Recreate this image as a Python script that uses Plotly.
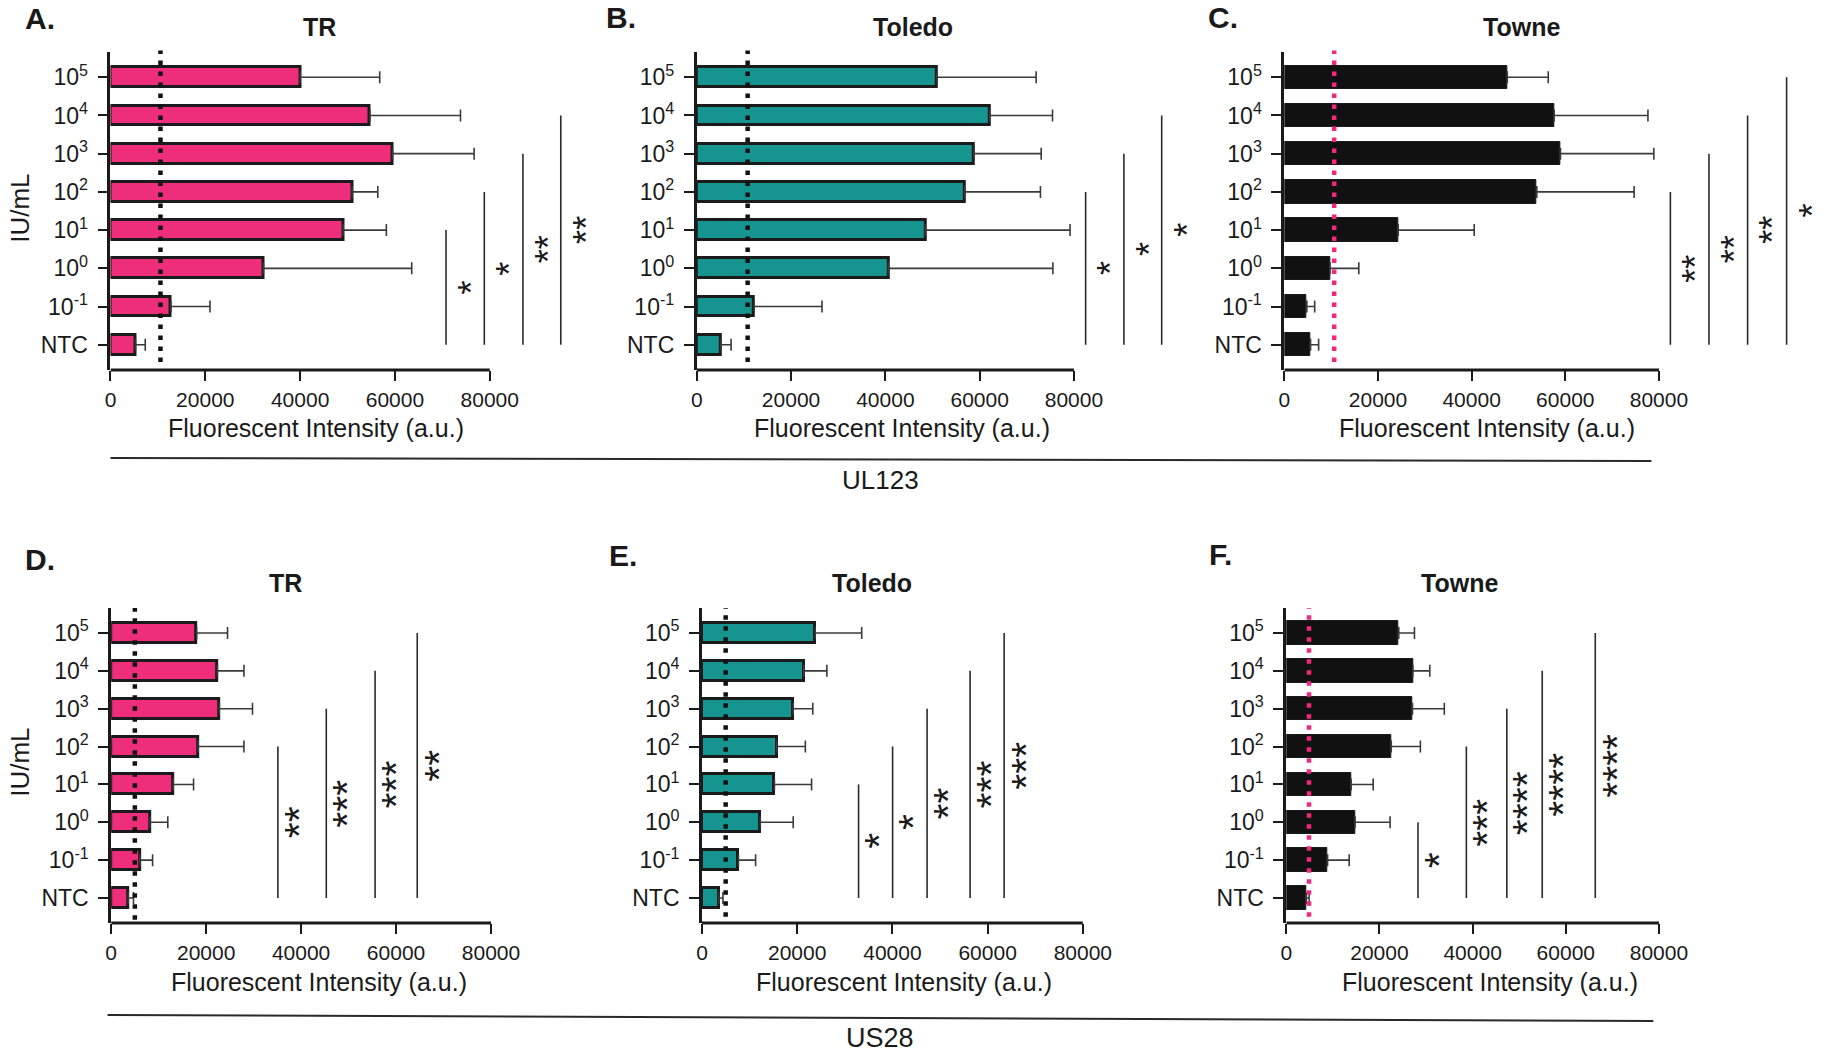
import plotly.graph_objects as go

W, H = 1836, 1053  # reference canvas in px, used to place things as fractions

# ---------------- data ----------------
categories = ["NTC", "10<sup>-1</sup>", "10<sup>0</sup>", "10<sup>1</sup>", "10<sup>2</sup>",
              "10<sup>3</sup>", "10<sup>4</sup>", "10<sup>5</sup>"]
x_ticks = [0, 20000, 40000, 60000, 80000]
x_tick_labels = ["0", "20000", "40000", "60000", "80000"]

# UL123 row (order: NTC, 10^-1, 10^0, 10^1, 10^2, 10^3, 10^4, 10^5)
tr_ul123_mean = [5270, 12760, 32260, 49050, 50950, 59500, 54730, 40000]
tr_ul123_upper = [7330, 20990, 63540, 58190, 56380, 76700, 73830, 56790]
toledo_ul123_mean = [5130, 12160, 40620, 48480, 56840, 58820, 62130, 50960]
toledo_ul123_upper = [7280, 26560, 75530, 79170, 72890, 73050, 75450, 71980]
towne_ul123_mean = [5600, 4800, 9760, 24310, 53920, 58970, 57620, 47610]
towne_ul123_upper = [7320, 6480, 15900, 40550, 74700, 78910, 77650, 56360]

# US28 row
tr_us28_mean = [3600, 6080, 8140, 13070, 18330, 22770, 22360, 18000]
tr_us28_upper = [4700, 8720, 11920, 17350, 27960, 29760, 27960, 24500]
toledo_us28_mean = [3500, 7650, 12250, 15210, 15700, 19160, 21380, 23760]
toledo_us28_upper = [4400, 11260, 19160, 23020, 21710, 23270, 26230, 33550]
towne_us28_mean = [4300, 8860, 14770, 13920, 22530, 27090, 27170, 24140]
towne_us28_upper = [4900, 13500, 22280, 18650, 28780, 33920, 30800, 27510]

# detection thresholds (dotted lines)
thresholds = [10540, 10790, 10650, 4980, 4970, 4870]

# significance brackets: x position, top category index (bottom is NTC), label
sig_A_x = [70780, 78850, 87000, 94980]
sig_A_top = [3, 4, 5, 6]
sig_A_lab = ["*", "*", "**", "**"]
sig_B_x = [82480, 90590, 98610]
sig_B_top = [4, 5, 6]
sig_B_lab = ["*", "*", "*"]
sig_C_x = [82440, 90680, 98930, 107260]
sig_C_top = [4, 5, 6, 7]
sig_C_lab = ["**", "**", "**", "*"]
sig_D_x = [35110, 45300, 55580, 64460]
sig_D_top = [4, 5, 6, 7]
sig_D_lab = ["**", "***", "***", "**"]
sig_E_x = [32890, 40040, 47280, 56320, 63470]
sig_E_top = [3, 4, 5, 6, 7]
sig_E_lab = ["*", "*", "**", "***", "***"]
sig_F_x = [28270, 38650, 47340, 54940, 66330]
sig_F_top = [2, 4, 5, 6, 7]
sig_F_lab = ["*", "***", "****", "****", "****"]

panel_letters = ["A.", "B.", "C.", "D.", "E.", "F."]
panel_titles = ["TR", "Toledo", "Towne", "TR", "Toledo", "Towne"]
gene_labels = ["UL123", "US28"]

# ---------------- styling / layout ----------------
PINK = "#EE2E7B"
TEAL = "#16948F"
BLACK = "#111111"
EDGE = "#1b1b1b"
TXT = "#1a1a1a"
FONT = "Liberation Sans, Arial, Helvetica, sans-serif"

panels = [
    dict(mean=tr_ul123_mean, up=tr_ul123_upper, color=PINK, lw=3, bw=0.52, dot="#111111",
         sx=sig_A_x, st=sig_A_top, sl=sig_A_lab, xmax=100000),
    dict(mean=toledo_ul123_mean, up=toledo_ul123_upper, color=TEAL, lw=3, bw=0.52, dot="#111111",
         sx=sig_B_x, st=sig_B_top, sl=sig_B_lab, xmax=102000),
    dict(mean=towne_ul123_mean, up=towne_ul123_upper, color=BLACK, lw=1, bw=0.61, dot="#F2287C",
         sx=sig_C_x, st=sig_C_top, sl=sig_C_lab, xmax=110000),
    dict(mean=tr_us28_mean, up=tr_us28_upper, color=PINK, lw=3, bw=0.53, dot="#111111",
         sx=sig_D_x, st=sig_D_top, sl=sig_D_lab, xmax=82000),
    dict(mean=toledo_us28_mean, up=toledo_us28_upper, color=TEAL, lw=3, bw=0.53, dot="#111111",
         sx=sig_E_x, st=sig_E_top, sl=sig_E_lab, xmax=82000),
    dict(mean=towne_us28_mean, up=towne_us28_upper, color=BLACK, lw=1, bw=0.62, dot="#F2287C",
         sx=sig_F_x, st=sig_F_top, sl=sig_F_lab, xmax=82000),
]

# pixel geometry: x of 0, x of 80000, y top of axis, y bottom axis
geom = [
    (106.0, 490.7, 52, 370),
    (700.7, 1083.3, 52, 370),
    (1296.7, 1676.7, 52, 370),
    (106.7, 492.0, 608, 923),
    (706.0, 1092.3, 608, 923),
    (1298.7, 1676.7, 608, 923),
]
letter_pos = [(34, 18), (624, 17), (1234, 17), (34, 559), (626, 555), (1232, 554)]
title_pos = [(318, 27), (920, 27), (1537, 27), (284, 583), (878, 583), (1474, 583)]
xtitle_pos = [(314, 428), (909, 428), (1502, 428), (317, 982), (911, 982), (1505, 982)]
dot_span = [(0.025, 1.005), (0.025, 1.005), (0.025, 1.005), (0.01, 1.0), (0.02, 1.0), (0.02, 1.0)]
star_size = [36, 36, 36, 41, 41, 41]
star_shift = [25, 25, 25, 21, 21, 21]

YR = [-0.66, 7.66]
ypos = list(range(len(categories)))

fig = go.Figure()
layout = dict(autosize=True, margin=dict(l=0, r=0, t=0, b=0),
              paper_bgcolor="white", plot_bgcolor="rgba(0,0,0,0)",
              font=dict(family=FONT, color=TXT), showlegend=False, bargap=0)
shapes = []
annotations = []


def px2x(px):
    return px / W


def px2y(py):
    return 1 - py / H


for i, p in enumerate(panels):
    n = i + 1
    xa = "x" if n == 1 else f"x{n}"
    ya = "y" if n == 1 else f"y{n}"
    xkey = "xaxis" if n == 1 else f"xaxis{n}"
    ykey = "yaxis" if n == 1 else f"yaxis{n}"
    x0, x80, ytop, ybot = geom[i]
    right = x0 + (x80 - x0) * p["xmax"] / 80000.0

    fig.add_trace(go.Bar(
        x=p["mean"], y=ypos, orientation="h", xaxis=xa, yaxis=ya,
        width=p["bw"],
        marker=dict(color=p["color"], line=dict(color=EDGE, width=p["lw"])),
        error_x=dict(type="data", symmetric=False,
                     array=[u - m for u, m in zip(p["up"], p["mean"])],
                     arrayminus=[0] * len(p["mean"]),
                     color="#3a3a3a", thickness=1.6, width=6),
        hoverinfo="skip", showlegend=False,
    ))

    layout[xkey] = dict(domain=[px2x(x0), px2x(right)], range=[0, p["xmax"]], anchor=ya,
                        tickvals=x_ticks, ticktext=x_tick_labels, ticks="outside",
                        ticklen=10, tickwidth=2, tickcolor=TXT, showline=False,
                        showgrid=False, zeroline=False, tickfont=dict(size=21, color=TXT),
                        ticklabelstandoff=1, fixedrange=True)
    layout[ykey] = dict(domain=[px2y(ybot), px2y(ytop)], range=YR, anchor=xa,
                        tickvals=ypos, ticktext=categories, ticks="outside",
                        ticklen=10, tickwidth=2, tickcolor=TXT, showline=True,
                        linewidth=2.8, linecolor=TXT, showgrid=False, zeroline=False,
                        tickfont=dict(size=23, color=TXT), ticklabelstandoff=5,
                        fixedrange=True)

    # x-axis line only from 0 to 80000
    shapes.append(dict(type="line", xref=xa, yref=f"{ya} domain", x0=0, x1=80000, y0=0, y1=0,
                       line=dict(color=TXT, width=2.8)))
    # dotted threshold line
    d0, d1 = dot_span[i]
    shapes.append(dict(type="line", xref=xa, yref=f"{ya} domain", x0=thresholds[i], x1=thresholds[i],
                       y0=d0, y1=d1, line=dict(color=p["dot"], width=4.5, dash="4.5px,6.5px")))
    # significance lines + stars
    for sx, st, sl in zip(p["sx"], p["st"], p["sl"]):
        shapes.append(dict(type="line", xref=xa, yref=ya, x0=sx, x1=sx, y0=0, y1=st,
                           line=dict(color="#2a2a2a", width=1.6)))
        annotations.append(dict(xref=xa, yref=ya, x=sx, y=st / 2.0, text=sl, showarrow=False,
                                textangle=-90, xanchor="center", yanchor="middle",
                                xshift=star_shift[i],
                                font=dict(size=star_size[i], color=TXT, family=FONT)))

    lx, ly = letter_pos[i]
    annotations.append(dict(xref="paper", yref="paper", x=px2x(lx), y=px2y(ly),
                            text=f"<b>{panel_letters[i]}</b>",
                            showarrow=False, xanchor="center", yanchor="middle",
                            font=dict(size=30, color=TXT, family=FONT)))
    tx, ty = title_pos[i]
    annotations.append(dict(xref="paper", yref="paper", x=px2x(tx), y=px2y(ty),
                            text=f"<b>{panel_titles[i]}</b>",
                            showarrow=False, xanchor="center", yanchor="middle",
                            font=dict(size=25, color=TXT, family=FONT)))
    ax_, ay_ = xtitle_pos[i]
    annotations.append(dict(xref="paper", yref="paper", x=px2x(ax_), y=px2y(ay_),
                            text="Fluorescent Intensity (a.u.)", showarrow=False,
                            xanchor="center", yanchor="middle",
                            font=dict(size=25, color=TXT, family=FONT)))

# y-axis titles
for yy in (208, 762):
    annotations.append(dict(xref="paper", yref="paper", x=px2x(14), y=px2y(yy), text="IU/mL",
                            showarrow=False, textangle=-90, xanchor="center", yanchor="middle",
                            font=dict(size=26, color=TXT, family=FONT)))

# separator lines and gene labels
shapes.append(dict(type="line", xref="paper", yref="paper", x0=px2x(106), x1=px2x(1669),
                   y0=px2y(458), y1=px2y(461), line=dict(color="#2a2a2a", width=2)))
shapes.append(dict(type="line", xref="paper", yref="paper", x0=px2x(103), x1=px2x(1671),
                   y0=px2y(1015), y1=px2y(1021), line=dict(color="#2a2a2a", width=2)))
annotations.append(dict(xref="paper", yref="paper", x=px2x(887), y=px2y(480), text=gene_labels[0],
                        showarrow=False, xanchor="center", yanchor="middle",
                        font=dict(size=26, color=TXT, family=FONT)))
annotations.append(dict(xref="paper", yref="paper", x=px2x(887), y=px2y(1038), text=gene_labels[1],
                        showarrow=False, xanchor="center", yanchor="middle",
                        font=dict(size=27, color=TXT, family=FONT)))

layout["shapes"] = shapes
layout["annotations"] = annotations
fig.update_layout(**layout)

fig.write_html(
    "out.html",
    config={"displayModeBar": False, "responsive": True},
    default_width="100vw",
    default_height="100vh",
    post_script=("document.body.style.margin='0px';document.body.style.overflow='hidden';"
                 "window.dispatchEvent(new Event('resize'));"),
)
